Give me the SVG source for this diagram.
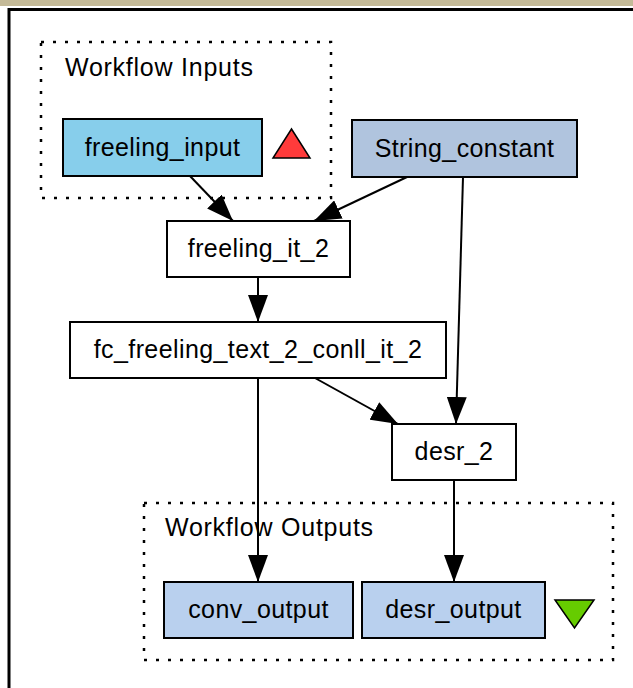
<svg xmlns="http://www.w3.org/2000/svg" width="633" height="688" viewBox="0 0 633 688">
<defs>
<style>
text{font-family:"Liberation Sans",Arial,Helvetica,sans-serif;font-size:25px;letter-spacing:0.4px;fill:#000;text-anchor:middle}
.cl{fill:none;stroke:#000;stroke-width:2.5;stroke-dasharray:3,9}
.cl-label{text-anchor:start;letter-spacing:0.75px}
.nd{stroke:#000;stroke-width:2}
.e{fill:none;stroke:#000;stroke-width:2}
</style>
<marker id="ah" markerWidth="27" markerHeight="20" refX="27" refY="10" orient="auto" markerUnits="userSpaceOnUse">
<path d="M0,0 L27,10 L0,20 Z" fill="#000"/>
</marker>
</defs>
<rect x="0" y="0" width="633" height="688" fill="#fff"/>
<rect x="0" y="0" width="633" height="6" fill="#c4ba98"/>
<path d="M9,688 V9.5 H633" fill="none" stroke="#000" stroke-width="3"/>

<g id="cluster_inputs">
<rect class="cl" x="41" y="42" width="290" height="156"/>
<text class="cl-label" x="65" y="76">Workflow Inputs</text>
</g>
<g id="cluster_outputs">
<rect class="cl" x="144" y="503" width="469" height="157"/>
<text class="cl-label" x="165" y="536">Workflow Outputs</text>
</g>

<g id="freeling_input">
<rect class="nd" x="63" y="119" width="199" height="57" fill="#87ceeb"/>
<text x="162.5" y="156">freeling_input</text>
</g>
<g id="input_marker">
<polygon points="273,158 310,158 291.5,129" fill="#ff3b3b" stroke="#000" stroke-width="1.5"/>
</g>
<g id="String_constant">
<rect class="nd" x="352" y="120" width="225" height="57" fill="#b0c4de"/>
<text x="464.5" y="157">String_constant</text>
</g>
<g id="freeling_it_2">
<rect class="nd" x="167" y="221" width="183" height="56" fill="#fff"/>
<text x="258.5" y="257">freeling_it_2</text>
</g>
<g id="fc_freeling_text_2_conll_it_2">
<rect class="nd" x="70" y="322" width="376" height="56" fill="#fff"/>
<text x="258" y="358">fc_freeling_text_2_conll_it_2</text>
</g>
<g id="desr_2">
<rect class="nd" x="392" y="424" width="124" height="56" fill="#fff"/>
<text x="454" y="460">desr_2</text>
</g>
<g id="conv_output">
<rect class="nd" x="164" y="582" width="189" height="56" fill="#b9d0ee"/>
<text x="258.5" y="618">conv_output</text>
</g>
<g id="desr_output">
<rect class="nd" x="362" y="582" width="183" height="56" fill="#b9d0ee"/>
<text x="453.5" y="618">desr_output</text>
</g>
<g id="output_marker">
<polygon points="555,600 594,600 574.5,628" fill="#66cc00" stroke="#000" stroke-width="1.5"/>
</g>

<g id="connectors">
<path class="e" d="M190,176 L233,221" marker-end="url(#ah)"/>
<path class="e" d="M407,177 L314,221" marker-end="url(#ah)"/>
<path class="e" d="M463,177 L456,424" marker-end="url(#ah)"/>
<path class="e" d="M258,277 L258,322" marker-end="url(#ah)"/>
<path class="e" d="M315,378 L398,424" marker-end="url(#ah)"/>
<path class="e" d="M258,378 L258,582" marker-end="url(#ah)"/>
<path class="e" d="M454,480 L454,582" marker-end="url(#ah)"/>
</g>
</svg>
